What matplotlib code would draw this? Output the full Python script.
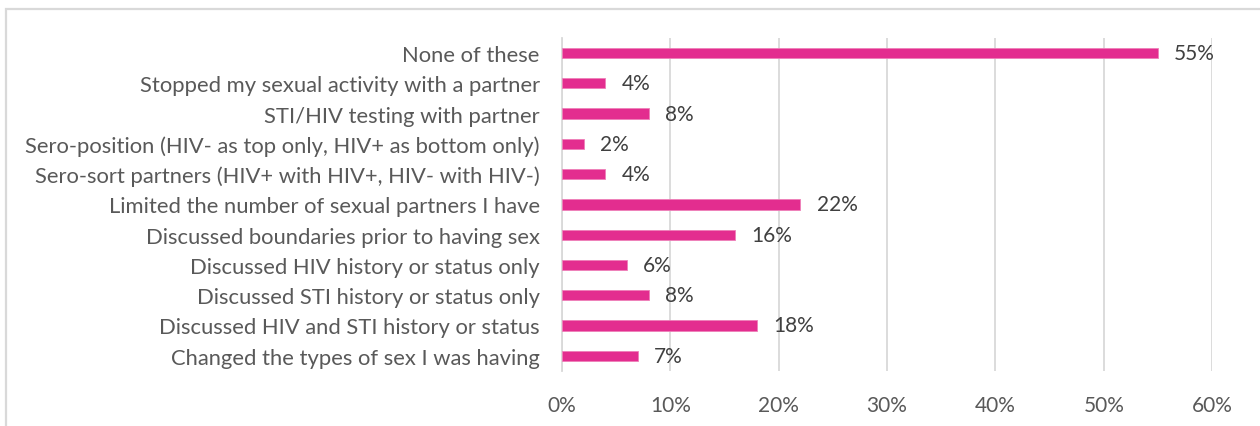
import matplotlib.pyplot as plt
from matplotlib.patches import Rectangle
from matplotlib.ticker import PercentFormatter

# survey responses, top to bottom as listed on the chart
categories = [
    "None of these",
    "Stopped my sexual activity with a partner",
    "STI/HIV testing with partner",
    "Sero-position (HIV- as top only, HIV+ as bottom only)",
    "Sero-sort partners (HIV+ with HIV+, HIV- with HIV-)",
    "Limited the number of sexual partners I have",
    "Discussed boundaries prior to having sex",
    "Discussed HIV history or status only",
    "Discussed STI history or status only",
    "Discussed HIV and STI history or status",
    "Changed the types of sex I was having",
]
percents = [55, 4, 8, 2, 4, 22, 16, 6, 8, 18, 7]
x_ticks = [0, 10, 20, 30, 40, 50, 60]

PINK = "#E32D8F"
TEXT = "#595959"
GRID = "#D9D9D9"

plt.rcParams["font.family"] = ["Lato", "DejaVu Sans"]

fig = plt.figure(figsize=(12.6, 4.27), dpi=100)
ax = fig.add_axes([0.446, 0.129, 0.516, 0.780])

y = list(range(len(categories)))
ax.barh(y, percents, height=0.34, color=PINK, edgecolor="#EE7FB8", linewidth=0.6, zorder=3)
ax.set_ylim(len(categories) - 0.5, -0.5)
ax.set_xlim(0, 60)

for yi, v in zip(y, percents):
    ax.text(v + 1.5, yi, f"{v}%", va="center", ha="left", fontsize=15, color="#404040")

ax.set_yticks(y)
ax.set_yticklabels(categories, fontsize=15.8, color=TEXT)
ax.set_xticks(x_ticks)
ax.xaxis.set_major_formatter(PercentFormatter(decimals=0))
ax.tick_params(axis="x", labelsize=15, labelcolor=TEXT, length=0, pad=17)
ax.tick_params(axis="y", length=0, pad=16)
ax.grid(axis="x", color=GRID, linewidth=1.3, zorder=0)

for side in ["top", "right", "bottom"]:
    ax.spines[side].set_visible(False)
ax.spines["left"].set_color(GRID)
ax.spines["left"].set_linewidth(1.3)

# chart frame running off the right and bottom edges
fig.patches.append(Rectangle((6 / 1260, -0.1), 1.2, 1 - 9.5 / 427 + 0.1,
                             transform=fig.transFigure, fill=False,
                             edgecolor="#D9D9D9", linewidth=1.6))

fig.savefig("out.png", dpi=100, facecolor="white")
